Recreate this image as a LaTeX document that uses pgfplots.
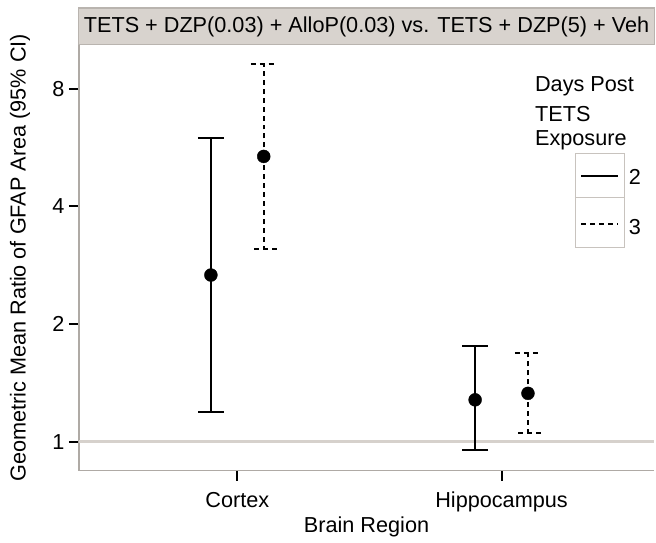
\documentclass[border=0pt]{standalone}
\usepackage{fontspec}
\setmainfont{Liberation Sans}
\usepackage{pgfplots}
\usepackage{pgfplotstable}
\pgfplotsset{compat=1.18}
\definecolor{hdr}{RGB}{216,211,206}
\definecolor{hdrborder}{RGB}{185,180,175}
\definecolor{refline}{RGB}{214,209,204}
\definecolor{axgray}{RGB}{175,170,165}
\definecolor{lgborder}{RGB}{200,195,190}

\pgfplotstableread{
x y ep em
-0.1 2.67 3.33 1.48
0.9 1.28 0.48 0.33
}\dayTwo
\pgfplotstableread{
x y ep em
0.1 5.37 3.90 2.26
1.1 1.33 0.36 0.28
}\dayThree

\newcommand{\PP}[2]{([xshift=#1bp-79bp,yshift=472bp-#2bp]ax.south west)}

\begin{document}
\begin{tikzpicture}[font=\fontsize{21.8}{26}\selectfont]
\begin{axis}[name=ax, scale only axis, width=577bp, height=427bp,
  xmin=-0.6, xmax=1.578, ymode=log, log basis y=2, ymin=0.843, ymax=10.36,
  axis lines*=left, axis line style={axgray, line width=1.5bp},
  xtick={0,1}, xticklabels={Cortex,Hippocampus},
  ytick={1,2,4,8}, yticklabels={1,2,4,8},
  /pgf/number format/assume math mode=true,
  tick align=outside, major tick length=10bp, tick style={black, line width=2bp},
  minor tick num=0,
  xticklabel style={yshift=-8bp},
  yticklabel style={xshift=-1bp},
  xlabel={Brain Region},
  ylabel={Geometric Mean Ratio of GFAP Area (95\% CI)},
  xlabel style={at={(rel axis cs:0.5,-0.131)}, anchor=center},
  ylabel style={at={(rel axis cs:-0.102,0.5)}, anchor=center},
  clip=false,
]
\addplot[refline, line width=3.5bp, forget plot] coordinates {(-0.6,1) (1.578,1)};
\addplot[black, only marks, mark=*, mark size=6.5bp,
  error bars/.cd, y dir=both, y explicit,
  error bar style={line width=2bp, black},
  error mark options={rotate=90, black, line width=2bp, mark size=13bp}]
  table[x=x, y=y, y error plus=ep, y error minus=em]{\dayTwo};
\addplot[black, only marks, mark=*, mark size=6.5bp, mark options={solid},
  error bars/.cd, y dir=both, y explicit,
  error bar style={line width=2bp, black, dash pattern=on 5bp off 4bp},
  error mark options={rotate=90, black, line width=2bp, mark size=13bp, dash pattern=on 5bp off 4bp}]
  table[x=x, y=y, y error plus=ep, y error minus=em]{\dayThree};
\end{axis}
% header strip
\draw[fill=hdr, draw=hdrborder, line width=1.2bp] \PP{79}{8} rectangle \PP{656}{45};
\node at \PP{367.5}{27} {TETS + DZP(0.03) + AlloP(0.03) vs. TETS + DZP(5) + Veh};
% legend
\node[anchor=west] at \PP{533}{87} {Days Post};
\node[anchor=west] at \PP{533}{114} {TETS};
\node[anchor=west] at \PP{533}{141} {Exposure};
\draw[lgborder, line width=1.5bp] \PP{577}{154} rectangle \PP{626}{248};
\draw[lgborder, line width=1.5bp] \PP{577}{198} -- \PP{626}{198};
\draw[black, line width=2bp] \PP{583}{176} -- \PP{620}{176};
\draw[black, line width=2bp, dash pattern=on 5bp off 4bp] \PP{583}{225} -- \PP{620}{225};
\node[anchor=west] at \PP{627}{177} {2};
\node[anchor=west] at \PP{627}{228} {3};
\path[use as bounding box] \PP{0}{544} rectangle \PP{656}{0};
\end{tikzpicture}
\end{document}
